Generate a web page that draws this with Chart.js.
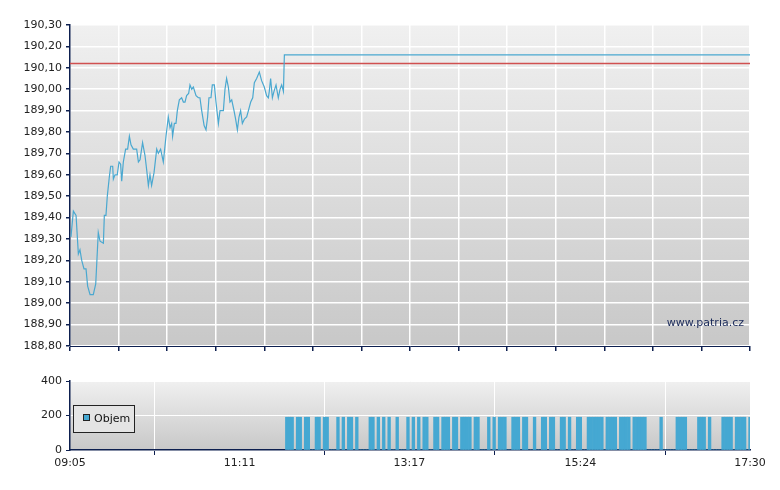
<!DOCTYPE html>
<html><head><meta charset="utf-8">
<script src="https://cdn.jsdelivr.net/npm/chart.js@4/dist/chart.umd.min.js"></script>
<style>
html,body{margin:0;padding:0;background:#fff;}
canvas{display:block;}
</style></head><body>
<div style="position:absolute;left:0;top:0;width:780px;height:360px"><canvas id="c1" width="780" height="360"></canvas></div>
<div style="position:absolute;left:0;top:370px;width:780px;height:120px"><canvas id="c2" width="780" height="120"></canvas></div>
<script>
// minutes since 09:05
const priceMinutes = [0.7,2.5,4.5,6.2,7.4,8.7,10.4,11.9,13.1,14.9,17.3,19.1,21.0,22.3,24.8,25.5,26.7,27.7,29.2,30.2,31.7,32.2,33.4,35.1,36.4,37.6,38.4,39.6,41.3,42.8,44.1,45.3,47.0,49.5,50.8,52.0,53.9,55.7,57.0,58.2,59.4,60.6,62.4,64.4,65.6,67.3,69.3,71.3,73.0,74.3,75.5,76.2,77.5,78.7,79.7,81.2,82.9,84.2,85.4,86.6,88.1,89.1,90.4,91.6,93.6,95.3,96.5,97.8,99.6,101.0,102.2,103.2,104.7,105.7,107.2,108.4,110.2,111.4,113.9,115.1,116.3,117.6,118.8,120.1,121.8,123.0,124.3,125.5,126.7,128.0,129.5,131.2,132.5,134.2,135.7,136.9,138.6,140.6,142.3,144.3,146.0,147.3,148.0,149.0,150.3,151.5,153.0,154.7,156.0,157.2,158.5,159.2,505];
const priceValues = [189.31,189.43,189.41,189.23,189.25,189.20,189.16,189.16,189.08,189.04,189.04,189.09,189.33,189.29,189.28,189.41,189.41,189.50,189.59,189.64,189.64,189.58,189.60,189.60,189.66,189.65,189.57,189.66,189.72,189.72,189.78,189.74,189.72,189.72,189.66,189.67,189.75,189.69,189.62,189.55,189.60,189.55,189.61,189.72,189.70,189.72,189.66,189.78,189.87,189.82,189.84,189.78,189.84,189.84,189.90,189.95,189.96,189.94,189.94,189.97,189.98,190.02,190.00,190.01,189.97,189.96,189.96,189.90,189.83,189.81,189.87,189.96,189.96,190.02,190.02,189.94,189.84,189.90,189.90,190.00,190.05,190.01,189.94,189.95,189.90,189.86,189.81,189.87,189.90,189.84,189.86,189.87,189.90,189.94,189.96,190.03,190.05,190.08,190.04,190.01,189.97,189.96,189.99,190.05,189.96,189.99,190.02,189.96,190.00,190.02,189.99,190.16,190.16];
const refPrice = 190.12;
const xLabels = ['09:05','11:11','13:17','15:24','17:30'];
const xLabelMinutes = [0,126,252,379,505];
// volume: 2-minute bins starting at minute 160; bins with no trades listed
const volStart = 160, volBin = 2, volBins = 173, volLevel = 190;
const volGapBins = [3,6,9,10,13,16,17,18,20,22,25,27,28,29,30,33,35,37,39,40,42,43,44,46,48,50,53,54,57,61,64,69,72,73,74,76,78,82,83,87,90,91,93,94,97,100,101,104,106,107,110,111,118,123,128,134,135,136,137,138,140,141,142,143,144,149,150,151,152,156,158,159,160,161,166,171];

const navy = '#0d1f4f';
const font = {family:'"DejaVu Sans", Verdana, sans-serif', size:11};
const bgPlugin = {id:'bg', beforeDraw(ch){const a=ch.chartArea,c=ch.ctx;const g=c.createLinearGradient(0,a.top,0,a.bottom);g.addColorStop(0,'#f0f0f0');g.addColorStop(1,'#c8c8c8');c.save();c.fillStyle=g;c.fillRect(a.left,a.top,a.right-a.left,a.bottom-a.top);c.restore();}};

const pricePts = priceMinutes.map((m,i)=>({x:m,y:priceValues[i]}));
new Chart(document.getElementById('c1'),{
 type:'line',
 data:{datasets:[
  {data:pricePts,borderColor:'#4aa8d0',borderWidth:1.2,pointRadius:0,tension:0,order:1},
  {data:[{x:0,y:refPrice},{x:505,y:refPrice}],borderColor:'#d05050',borderWidth:1.5,pointRadius:0,order:2}
 ]},
 options:{responsive:false,animation:false,devicePixelRatio:1,
  layout:{padding:{left:0,right:30,top:25,bottom:0}},
  plugins:{legend:{display:false},tooltip:{enabled:false}},
  scales:{
   x:{type:'linear',min:0,max:505,
     afterBuildTicks(s){const t=[];for(let i=0;i<=14;i++)t.push({value:505*i/14});s.ticks=t;},
     afterFit(s){s.height=14;},
     ticks:{display:false},
     grid:{color:'#ffffff',lineWidth:1.5,tickColor:navy,tickLength:5,drawTicks:true},
     border:{color:navy,width:1}},
   y:{min:188.8,max:190.3,
     afterBuildTicks(s){const t=[];for(let i=0;i<=15;i++)t.push({value:188.8+i*0.1});s.ticks=t;},
     afterFit(s){s.width=70;},
     ticks:{color:'#222',font,padding:4,autoSkip:false,callback:v=>v.toFixed(2).replace('.',',')},
     grid:{color:'#ffffff',lineWidth:1.5,tickColor:navy,tickLength:4},
     border:{color:navy,width:1.5}}
  }},
 plugins:[bgPlugin,{id:'wm',afterDatasetsDraw(ch){const c=ch.ctx;c.save();c.font='11px "DejaVu Sans", Verdana, sans-serif';c.fillStyle='#1a2a5a';c.textAlign='right';c.textBaseline='middle';c.fillText('www.patria.cz',ch.chartArea.right-6,ch.chartArea.bottom-23);c.restore();}}]
});

const volPts=[];
for(let i=0;i<volBins;i++){volPts.push({x:volStart+volBin*i+volBin/2,y:volGapBins.includes(i)?0:volLevel});}
new Chart(document.getElementById('c2'),{
 type:'bar',
 data:{datasets:[{data:volPts,backgroundColor:'#45a8d2',barPercentage:1,categoryPercentage:1,borderWidth:0}]},
 options:{responsive:false,animation:false,devicePixelRatio:1,
  layout:{padding:{left:0,right:30,top:11,bottom:0}},
  plugins:{legend:{display:false},tooltip:{enabled:false}},
  scales:{
   x:{type:'linear',min:0,max:505,offset:false,
     afterBuildTicks(s){s.ticks=xLabelMinutes.map(v=>({value:v}));},
     afterFit(s){s.height=40;},
     ticks:{color:'#222',font,maxRotation:0,autoSkip:false,padding:2,callback:(v,i)=>xLabels[i]},
     grid:{color:'#ffffff',lineWidth:1,tickColor:navy,tickLength:5},
     border:{color:navy,width:1.5}},
   y:{min:0,max:400,
     afterBuildTicks(s){s.ticks=[0,200,400].map(v=>({value:v}));},
     afterFit(s){s.width=70;},
     ticks:{color:'#222',font,padding:4,autoSkip:false},
     grid:{color:'#ffffff',lineWidth:1,tickColor:navy,tickLength:4},
     border:{color:navy,width:1.5}}
  }},
 plugins:[bgPlugin,{id:'lg',afterDraw(ch){const c=ch.ctx;c.save();c.fillStyle='#e4e4e4';c.fillRect(73.5,35.5,61,27);c.strokeStyle='#222';c.lineWidth=1;c.strokeRect(73.5,35.5,61,27);c.fillStyle='#45a8d2';c.fillRect(83,44,7,7);c.strokeStyle='#222';c.strokeRect(83.5,44.5,6,6);c.fillStyle='#111';c.font='11px "DejaVu Sans", Verdana, sans-serif';c.textBaseline='middle';c.fillText('Objem',94,49);c.restore();}}]
});
</script>
</body></html>
